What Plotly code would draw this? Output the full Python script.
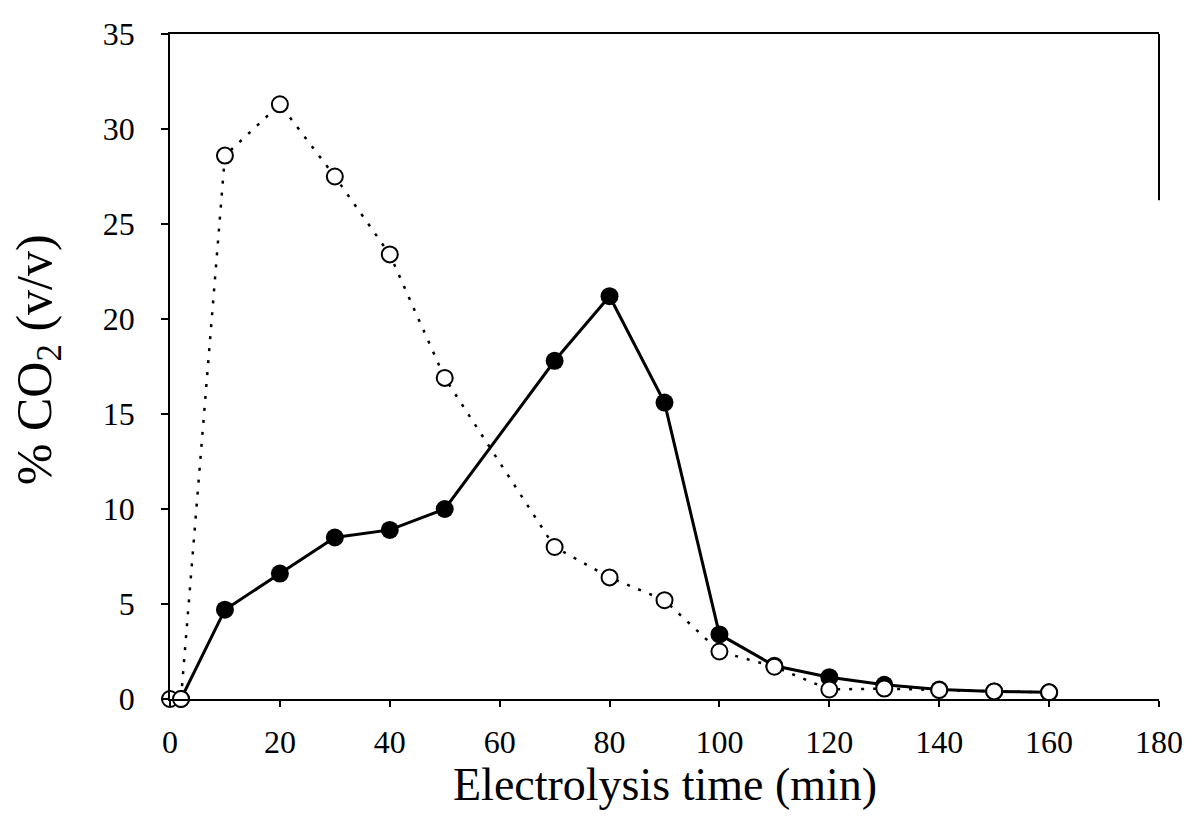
import plotly.graph_objects as go

# Filled circles, solid line
x_filled = [2, 10, 20, 30, 40, 50, 70, 80, 90, 100, 110, 120, 130, 140, 150, 160]
y_filled = [0, 4.7, 6.6, 8.5, 8.9, 10.0, 17.8, 21.2, 15.6, 3.4, 1.75, 1.15, 0.75, 0.5, 0.4, 0.35]

# Open circles, dotted line
x_open = [0, 2, 10, 20, 30, 40, 50, 70, 80, 90, 100, 110, 120, 130, 140, 150, 160]
y_open = [0, 0, 28.6, 31.3, 27.5, 23.4, 16.9, 8.0, 6.4, 5.2, 2.5, 1.7, 0.5, 0.55, 0.47, 0.4, 0.35]

x_ticks = [0, 20, 40, 60, 80, 100, 120, 140, 160, 180]
y_ticks = [0, 5, 10, 15, 20, 25, 30, 35]

x_title = "Electrolysis time (min)"
y_title = "% CO<sub>2</sub> (v/v)"

FONT = "Liberation Serif, Times New Roman, serif"

fig = go.Figure()
fig.add_trace(go.Scatter(
    x=x_filled, y=y_filled, mode="lines+markers",
    line=dict(color="black", width=3),
    marker=dict(symbol="circle", size=18, color="black"),
    showlegend=False, cliponaxis=False,
))
fig.add_trace(go.Scatter(
    x=x_open, y=y_open, mode="lines+markers",
    line=dict(color="black", width=2.5, dash="3px,9px"),
    marker=dict(symbol="circle", size=16, color="white",
                line=dict(color="black", width=2)),
    showlegend=False, cliponaxis=False,
))

fig.update_layout(
    width=1195, height=826,
    margin=dict(l=170, r=36, t=34, b=127),
    paper_bgcolor="white", plot_bgcolor="white",
    font=dict(family=FONT, color="black", size=32),
    xaxis=dict(
        range=[0, 180], tickvals=x_ticks, ticktext=[str(v) for v in x_ticks],
        showgrid=False, zeroline=False,
        showline=True, linecolor="black", linewidth=2, mirror=True,
        ticks="outside", ticklen=6, tickwidth=1.5, tickcolor="black",
        ticklabelstandoff=8,
        tickfont=dict(family=FONT, size=32, color="black"),
    ),
    yaxis=dict(
        range=[0, 35], tickvals=y_ticks, ticktext=[str(v) for v in y_ticks],
        showgrid=False, zeroline=False,
        showline=True, linecolor="black", linewidth=1.5,
        ticks="outside", ticklen=7, tickwidth=1.5, tickcolor="black",
        ticklabelstandoff=20,
        tickfont=dict(family=FONT, size=32, color="black"),
    ),
    annotations=[
        dict(text=x_title, xref="paper", yref="paper", x=0.5, y=-0.129,
             xanchor="center", yanchor="middle", showarrow=False,
             font=dict(family=FONT, size=46, color="black")),
        dict(text=y_title, xref="paper", yref="paper", x=-0.1335, y=0.511,
             xanchor="center", yanchor="middle", showarrow=False, textangle=-90,
             font=dict(family=FONT, size=50, color="black")),
    ],
    shapes=[
        dict(type="line", xref="paper", yref="paper", x0=1, x1=1, y0=0.75, y1=1,
             line=dict(color="black", width=2)),
    ],
)

fig.write_html("out.html")
